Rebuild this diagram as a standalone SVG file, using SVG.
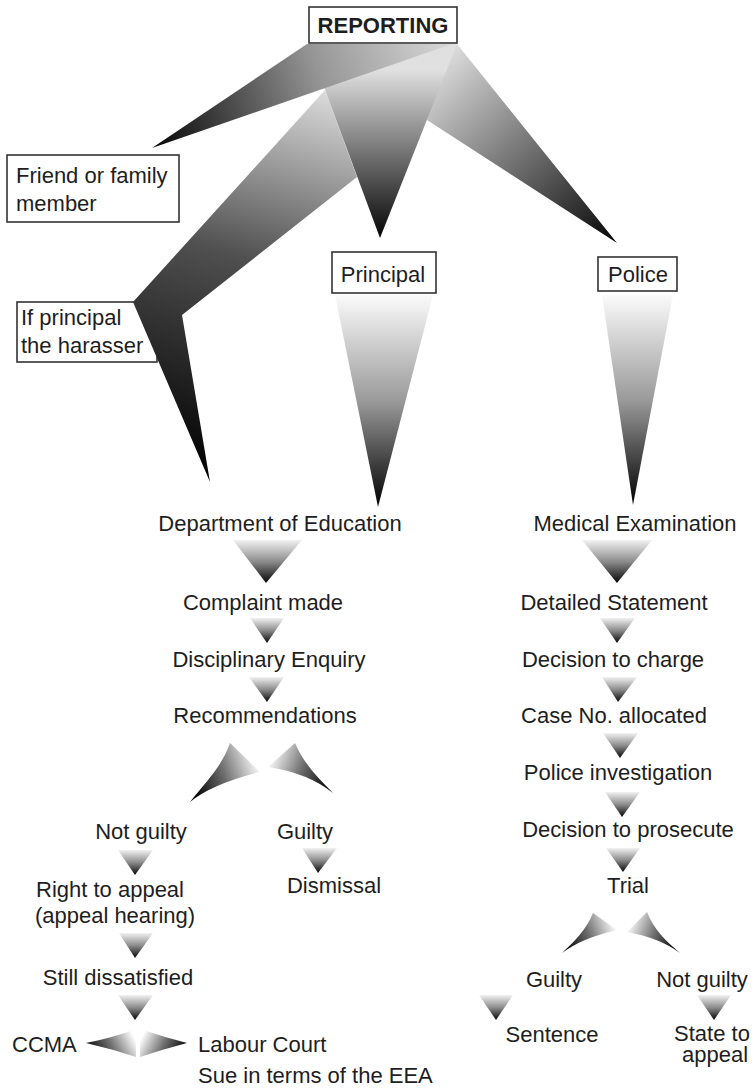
<svg xmlns="http://www.w3.org/2000/svg" width="755" height="1088" viewBox="0 0 755 1088">
<defs>
<style>
.t{font-family:"Liberation Sans",Arial,sans-serif;font-size:22px;fill:#1e1e1e}
.m{text-anchor:middle}
.b{font-weight:bold}
.box{fill:#fff;stroke:#333;stroke-width:1.6}
.dn{fill:url(#gDown)}
.big{fill:url(#gBig)}
.hl{fill:url(#gHL)}
.hr{fill:url(#gHR)}
</style>
<linearGradient id="gDown" x1="0" y1="0" x2="0" y2="1">
<stop offset="0" stop-color="#f2f2f2"/><stop offset="0.5" stop-color="#8c8c8c"/><stop offset="1" stop-color="#050505"/>
</linearGradient>
<linearGradient id="gBig" x1="0" y1="0" x2="0" y2="1">
<stop offset="0" stop-color="#fbfbfb"/><stop offset="0.5" stop-color="#9a9a9a"/><stop offset="1" stop-color="#000"/>
</linearGradient>
<linearGradient id="gHL" x1="0" y1="0.7" x2="1" y2="0.4">
<stop offset="0" stop-color="#000"/><stop offset="0.5" stop-color="#707070"/><stop offset="1" stop-color="#fff"/>
</linearGradient>
<linearGradient id="gHR" x1="0" y1="0.4" x2="1" y2="0.7">
<stop offset="0" stop-color="#fff"/><stop offset="0.5" stop-color="#707070"/><stop offset="1" stop-color="#000"/>
</linearGradient>
<linearGradient id="gFriend" gradientUnits="userSpaceOnUse" x1="452" y1="44" x2="152" y2="148">
<stop offset="0" stop-color="#d8d8d8"/><stop offset="0.43" stop-color="#959595"/><stop offset="1" stop-color="#050505"/>
</linearGradient>
<linearGradient id="gPolArm" gradientUnits="userSpaceOnUse" x1="440" y1="50" x2="617" y2="243">
<stop offset="0" stop-color="#e2e2e2"/><stop offset="1" stop-color="#050505"/>
</linearGradient>
<linearGradient id="gPrinArm" gradientUnits="userSpaceOnUse" x1="380" y1="70" x2="380" y2="238">
<stop offset="0" stop-color="#e0e0e0"/><stop offset="1" stop-color="#050505"/>
</linearGradient>
<linearGradient id="gBand" gradientUnits="userSpaceOnUse" x1="325" y1="90" x2="210" y2="482">
<stop offset="0" stop-color="#dcdcdc"/><stop offset="0.45" stop-color="#505050"/><stop offset="1" stop-color="#000"/>
</linearGradient>
</defs>
<rect width="755" height="1088" fill="#fff"/>

<g id="node-if-principal">
<rect class="box" x="17" y="302" width="140" height="60"/>
<text class="t" x="21" y="325">If principal</text>
<text class="t" x="21" y="353">the harasser</text>
</g>

<g id="connectors">
<polygon points="325,90 133,302 210,482 182,315 357,177" fill="url(#gBand)"/>
<polygon points="430,44 457,44 617,243 427,120 440,60" fill="url(#gPolArm)"/>
<polygon points="308,44 457,44 380,238" fill="url(#gPrinArm)"/>
<polygon points="307,44 452,44 152,148" fill="url(#gFriend)"/>
<polygon class="big" points="335,295 433,295 378,507"/>
<polygon class="big" points="602,295 673,295 633,505"/>
<polygon class="dn" points="233,540 302,540 266,583"/>
<polygon class="dn" points="250,618 284,618 267,643"/>
<polygon class="dn" points="249,677 284,677 267,702"/>
<path class="hl" d="M260,772 L230,743 C222,766 206,782 190,802 Q212,784 260,772 Z"/>
<path class="hr" d="M268,767 L295,743 C304,764 318,778 333,793 Q308,773 268,767 Z"/>
<polygon class="dn" points="118,850 153,850 135,875"/>
<polygon class="dn" points="302,848 337,848 318,873"/>
<polygon class="dn" points="119,933 153,933 135,958"/>
<polygon class="dn" points="118,995 153,995 135,1020"/>
<path class="hl" d="M86,1043 Q112,1038 136,1029 L136,1057 Q112,1049 86,1043 Z"/>
<path class="hr" d="M140,1029 Q164,1037 187,1043 Q164,1049 140,1057 Z"/>
<polygon class="dn" points="582,540 652,540 617,583"/>
<polygon class="dn" points="600,618 635,618 617,643"/>
<polygon class="dn" points="602,677 637,677 618,702"/>
<polygon class="dn" points="603,733 638,733 620,758"/>
<polygon class="dn" points="605,792 640,792 622,817"/>
<polygon class="dn" points="606,848 640,848 623,872"/>
<path class="hl" d="M617,930 L593,913 C586,930 574,942 562,953 Q582,938 617,930 Z"/>
<path class="hr" d="M627,932 L647,912 C654,930 667,942 680,953 Q660,938 627,932 Z"/>
<polygon class="dn" points="479,995 513,995 496,1020"/>
<polygon class="dn" points="697,995 731,995 714,1020"/>
</g>

<g id="node-reporting">
<rect class="box" x="309" y="7" width="148" height="36"/>
<text class="t m b" x="383" y="33">REPORTING</text>
</g>
<g id="node-friend">
<rect class="box" x="7" y="155" width="172" height="67"/>
<text class="t" x="16" y="183">Friend or family</text>
<text class="t" x="16" y="211">member</text>
</g>
<g id="node-principal">
<rect class="box" x="332" y="252" width="104" height="41"/>
<text class="t m" x="383" y="282">Principal</text>
</g>
<g id="node-police">
<rect class="box" x="598" y="257" width="79" height="34"/>
<text class="t m" x="638" y="282">Police</text>
</g>

<g id="node-dept"><text class="t m" x="280" y="531">Department of Education</text></g>
<g id="node-complaint"><text class="t m" x="263" y="610">Complaint made</text></g>
<g id="node-enquiry"><text class="t m" x="269" y="667">Disciplinary Enquiry</text></g>
<g id="node-recommend"><text class="t m" x="265" y="723">Recommendations</text></g>
<g id="node-notguilty-l"><text class="t m" x="141" y="839">Not guilty</text></g>
<g id="node-guilty-l"><text class="t m" x="305" y="839">Guilty</text></g>
<g id="node-dismissal"><text class="t m" x="334" y="893">Dismissal</text></g>
<g id="node-appeal">
<text class="t m" x="110" y="897">Right to appeal</text>
<text class="t m" x="115" y="923">(appeal hearing)</text>
</g>
<g id="node-dissatisfied"><text class="t m" x="118" y="985">Still dissatisfied</text></g>
<g id="node-ccma"><text class="t" x="12" y="1052">CCMA</text></g>
<g id="node-labour"><text class="t" x="198" y="1052">Labour Court</text></g>
<g id="node-sue"><text class="t" x="198" y="1083">Sue in terms of the EEA</text></g>

<g id="node-medical"><text class="t m" x="635" y="531">Medical Examination</text></g>
<g id="node-statement"><text class="t m" x="614" y="610">Detailed Statement</text></g>
<g id="node-charge"><text class="t m" x="613" y="667">Decision to charge</text></g>
<g id="node-case"><text class="t m" x="614" y="723">Case No. allocated</text></g>
<g id="node-investigation"><text class="t m" x="618" y="780">Police investigation</text></g>
<g id="node-prosecute"><text class="t m" x="628" y="837">Decision to prosecute</text></g>
<g id="node-trial"><text class="t m" x="628" y="893">Trial</text></g>
<g id="node-guilty-r"><text class="t m" x="554" y="987">Guilty</text></g>
<g id="node-notguilty-r"><text class="t m" x="702" y="987">Not guilty</text></g>
<g id="node-sentence"><text class="t m" x="552" y="1042">Sentence</text></g>
<g id="node-state">
<text class="t m" x="712" y="1041">State to</text>
<text class="t m" x="715" y="1062">appeal</text>
</g>
</svg>
